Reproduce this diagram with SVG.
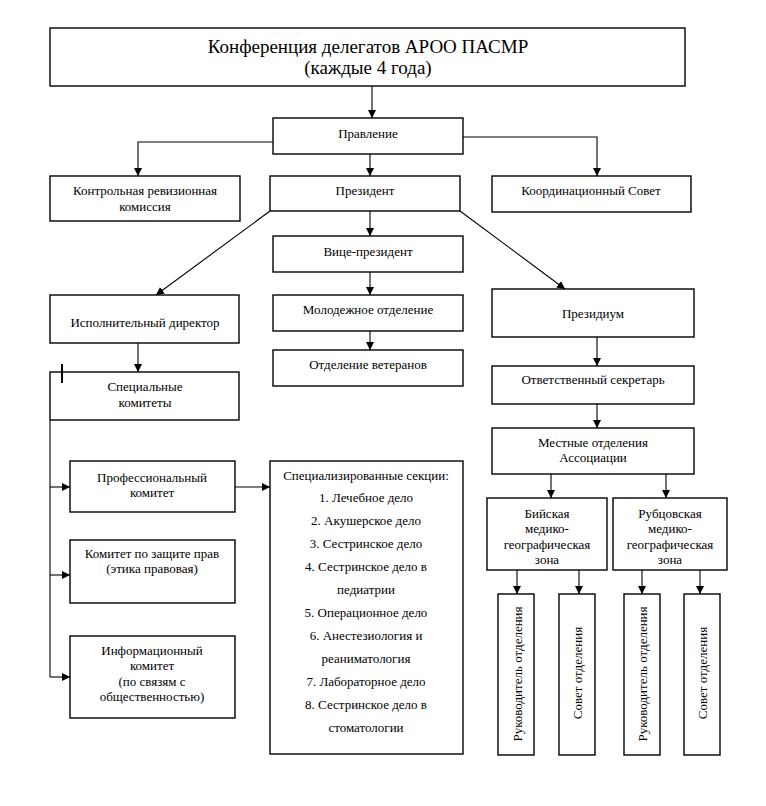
<svg xmlns="http://www.w3.org/2000/svg" width="766" height="806" viewBox="0 0 766 806">
<style>
.b{fill:#fff;stroke:#000;stroke-width:1.4}
.t{font-family:'Liberation Serif','DejaVu Serif',serif;font-size:13px;fill:#000;text-anchor:middle}
.h{font-size:19px}
.c{fill:none;stroke:#000;stroke-width:1.1}
</style>
<defs>
<marker id="a" viewBox="0 0 10 10" refX="10" refY="5" markerWidth="8" markerHeight="9" markerUnits="userSpaceOnUse" orient="auto"><path d="M0,0L10,5L0,10z" fill="#000"/></marker>
</defs>
<rect width="766" height="806" fill="#fff"/>
<g id="connectors">
<path class="c" d="M372,86V118" marker-end="url(#a)"/>
<path class="c" d="M273,142H138V176" marker-end="url(#a)"/>
<path class="c" d="M463,137H597V176" marker-end="url(#a)"/>
<path class="c" d="M370,154V176" marker-end="url(#a)"/>
<path class="c" d="M370,211V236" marker-end="url(#a)"/>
<path class="c" d="M370,272V295" marker-end="url(#a)"/>
<path class="c" d="M370,331V350" marker-end="url(#a)"/>
<path class="c" d="M270,211L156,295" marker-end="url(#a)"/>
<path class="c" d="M460,211L565,289" marker-end="url(#a)"/>
<path class="c" d="M138,343V372" marker-end="url(#a)"/>
<path class="c" d="M50,420V677"/>
<path class="c" d="M50,487H70" marker-end="url(#a)"/>
<path class="c" d="M50,575H70" marker-end="url(#a)"/>
<path class="c" d="M50,677H70" marker-end="url(#a)"/>
<path class="c" d="M235,487H270" marker-end="url(#a)"/>
<path class="c" d="M597,337V366" marker-end="url(#a)"/>
<path class="c" d="M597,404V428" marker-end="url(#a)"/>
<path class="c" d="M551,474V498" marker-end="url(#a)"/>
<path class="c" d="M666,474V498" marker-end="url(#a)"/>
<path class="c" d="M517,570V594" marker-end="url(#a)"/>
<path class="c" d="M579,570V594" marker-end="url(#a)"/>
<path class="c" d="M642,570V594" marker-end="url(#a)"/>
<path class="c" d="M700,570V594" marker-end="url(#a)"/>
</g>
<g id="conference"><rect class="b" x="50" y="28" width="635" height="58"/><text class="t h" x="368" y="53">Конференция делегатов АРОО ПАСМР</text><text class="t h" x="368" y="74">(каждые 4 года)</text></g>
<g id="pravlenie"><rect class="b" x="273" y="118" width="190" height="36"/><text class="t" x="368" y="137.5">Правление</text></g>
<g id="kontrol"><rect class="b" x="50" y="176" width="190" height="45"/><text class="t" x="145" y="194.5">Контрольная ревизионная</text><text class="t" x="145" y="210.5">комиссия</text></g>
<g id="president"><rect class="b" x="270" y="176" width="190" height="35"/><text class="t" x="365" y="194.5">Президент</text></g>
<g id="koord"><rect class="b" x="492" y="176" width="199" height="36"/><text class="t" x="591" y="194.5">Координационный Совет</text></g>
<g id="vice"><rect class="b" x="273" y="236" width="190" height="36"/><text class="t" x="368" y="255.5">Вице-президент</text></g>
<g id="molod"><rect class="b" x="273" y="295" width="190" height="36"/><text class="t" x="368" y="313.5">Молодежное отделение</text></g>
<g id="veteran"><rect class="b" x="273" y="350" width="190" height="36"/><text class="t" x="368" y="368.5">Отделение ветеранов</text></g>
<g id="ispoln"><rect class="b" x="50" y="295" width="189" height="48"/><text class="t" x="145" y="326.5">Исполнительный директор</text></g>
<g id="special"><rect class="b" x="50" y="372" width="189" height="48"/><text class="t" x="145" y="390.5">Специальные</text><text class="t" x="145" y="406.5">комитеты</text><path d="M62,364V383" stroke="#000" stroke-width="2"/></g>
<g id="prof"><rect class="b" x="70" y="461" width="165" height="51"/><text class="t" x="152" y="481.5">Профессиональный</text><text class="t" x="152" y="496.5">комитет</text></g>
<g id="zashchita"><rect class="b" x="70" y="540" width="165" height="63"/><text class="t" x="152" y="557.5">Комитет по защите прав</text><text class="t" x="152" y="572.5">(этика правовая)</text></g>
<g id="info"><rect class="b" x="70" y="636" width="165" height="82"/><text class="t" x="152" y="654.5">Информационный</text><text class="t" x="152" y="669.5">комитет</text><text class="t" x="152" y="685.5">(по связям с</text><text class="t" x="152" y="700.5">общественностью)</text></g>
<g id="sekcii"><rect class="b" x="270" y="461" width="193" height="293"/>
<text class="t" x="366" y="479.5">Специализированные секции:</text>
<text class="t" x="366" y="502">1. Лечебное дело</text>
<text class="t" x="366" y="525">2. Акушерское дело</text>
<text class="t" x="366" y="548">3. Сестринское дело</text>
<text class="t" x="366" y="571">4. Сестринское дело в</text>
<text class="t" x="366" y="594">педиатрии</text>
<text class="t" x="366" y="617">5. Операционное дело</text>
<text class="t" x="366" y="640">6. Анестезиология и</text>
<text class="t" x="366" y="663">реаниматология</text>
<text class="t" x="366" y="686">7. Лабораторное дело</text>
<text class="t" x="366" y="709">8. Сестринское дело в</text>
<text class="t" x="366" y="732">стоматологии</text></g>
<g id="prezidium"><rect class="b" x="492" y="289" width="202" height="48"/><text class="t" x="593" y="317.5">Президиум</text></g>
<g id="otvet"><rect class="b" x="492" y="366" width="202" height="38"/><text class="t" x="593" y="383.5">Ответственный секретарь</text></g>
<g id="mestnye"><rect class="b" x="492" y="428" width="202" height="46"/><text class="t" x="593" y="446.5">Местные отделения</text><text class="t" x="593" y="461.5">Ассоциации</text></g>
<g id="biy"><rect class="b" x="487" y="498" width="120" height="72"/><text class="t" x="547" y="517.5">Бийская</text><text class="t" x="547" y="533">медико-</text><text class="t" x="547" y="548.5">географическая</text><text class="t" x="547" y="564">зона</text></g>
<g id="rub"><rect class="b" x="613" y="498" width="114" height="72"/><text class="t" x="670" y="517.5">Рубцовская</text><text class="t" x="670" y="533">медико-</text><text class="t" x="670" y="548.5">географическая</text><text class="t" x="670" y="564">зона</text></g>
<g id="ruk1"><rect class="b" x="498" y="594" width="36" height="161"/><text class="t" transform="translate(521.5,674) rotate(-90)">Руководитель отделения</text></g>
<g id="sovet1"><rect class="b" x="559" y="594" width="36" height="161"/><text class="t" transform="translate(581.5,673) rotate(-90)">Совет отделения</text></g>
<g id="ruk2"><rect class="b" x="624" y="594" width="36" height="161"/><text class="t" transform="translate(646.5,674) rotate(-90)">Руководитель отделения</text></g>
<g id="sovet2"><rect class="b" x="684" y="594" width="36" height="161"/><text class="t" transform="translate(706.5,673) rotate(-90)">Совет отделения</text></g>
</svg>
